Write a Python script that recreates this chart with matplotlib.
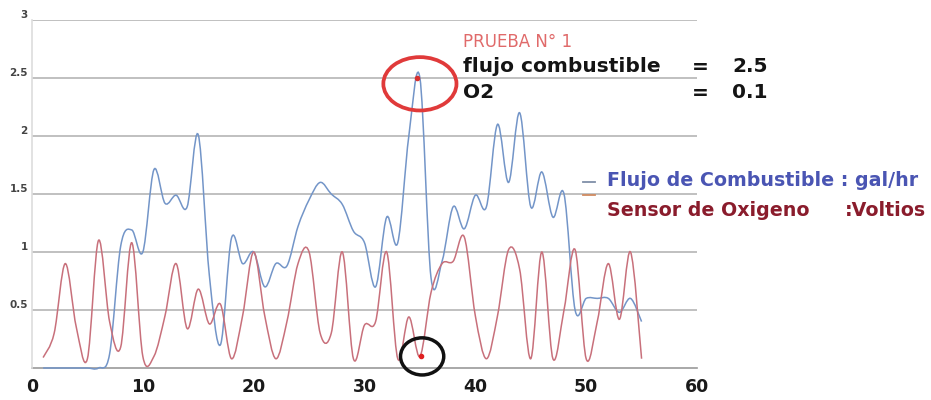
import matplotlib
matplotlib.use("Agg")
import matplotlib.pyplot as plt
from matplotlib.path import Path
from matplotlib.patches import PathPatch, Ellipse

plt.rcParams['font.family'] = ['DejaVu Sans']

# Muestras (una por segundo)
tiempo = list(range(1, 56))

flujo_combustible = [0, 0, 0, 0, 0, 0, 0.12, 1.05, 1.19, 1.0,
                     1.71, 1.42, 1.49, 1.39, 2.01, 0.8, 0.2, 1.12, 0.9, 1.0,
                     0.7, 0.9, 0.88, 1.22, 1.45, 1.6, 1.5, 1.41, 1.18, 1.08,
                     0.7, 1.3, 1.08, 2.0, 2.5, 0.78, 0.92, 1.39, 1.2, 1.49,
                     1.39, 2.1, 1.6, 2.2, 1.39, 1.69, 1.3, 1.5, 0.5, 0.6,
                     0.6, 0.6, 0.48, 0.6, 0.4]

sensor_oxigeno = [0.09, 0.3, 0.9, 0.35, 0.08, 1.1, 0.4, 0.18, 1.08, 0.1,
                  0.1, 0.45, 0.9, 0.34, 0.68, 0.38, 0.55, 0.08, 0.45, 1.0,
                  0.45, 0.08, 0.4, 0.9, 1.0, 0.3, 0.3, 1.0, 0.08, 0.37,
                  0.4, 1.0, 0.08, 0.44, 0.1, 0.65, 0.9, 0.92, 1.13, 0.45,
                  0.08, 0.45, 1.02, 0.85, 0.08, 1.0, 0.08, 0.5, 1.02, 0.08,
                  0.4, 0.9, 0.42, 1.0, 0.08]

x_ticks = [0, 10, 20, 30, 40, 50, 60]
y_ticks = [0.5, 1, 1.5, 2, 2.5, 3]
y_tick_labels = ['0.5', '1', '1.5', '2', '2.5', '3']

# Lectura destacada de la prueba
prueba_t = 35
prueba_flujo = 2.5
prueba_o2 = 0.1

COLOR_FLUJO = '#7395c8'
COLOR_O2 = '#c8707b'


def curva_suavizada(xs, ys):
    """Trayectoria Bezier suavizada que pasa por todos los puntos."""
    n = len(xs)
    verts = [(xs[0], ys[0])]
    codes = [Path.MOVETO]
    for i in range(n - 1):
        a = i - 1 if i > 0 else i
        d = i + 2 if i + 2 < n else i + 1
        c1 = (xs[i] + (xs[i + 1] - xs[a]) / 6.0, ys[i] + (ys[i + 1] - ys[a]) / 6.0)
        c2 = (xs[i + 1] - (xs[d] - xs[i]) / 6.0, ys[i + 1] - (ys[d] - ys[i]) / 6.0)
        verts += [c1, c2, (xs[i + 1], ys[i + 1])]
        codes += [Path.CURVE4] * 3
    return Path(verts, codes)


fig = plt.figure(figsize=(9.31, 4.0), dpi=100)
ax = fig.add_axes([32 / 931, 32 / 400, 665 / 931, 348 / 400])

ax.set_xlim(0, 60)
ax.set_ylim(0, 3)

for serie, color in [(flujo_combustible, COLOR_FLUJO), (sensor_oxigeno, COLOR_O2)]:
    ax.add_patch(PathPatch(curva_suavizada(tiempo, serie), fill=False, edgecolor=color,
                           lw=1.1, transform=ax.transData, zorder=3, clip_on=False))

# Cuadrícula
ax.set_yticks(y_ticks)
ax.set_yticklabels(y_tick_labels, fontsize=7.5, fontweight='bold', color='#444444')
for lab in ax.get_yticklabels():
    lab.set_verticalalignment('bottom')
ax.yaxis.grid(True, color='#b5b5b5', lw=1.2)
ax.set_axisbelow(True)

ax.set_xticks(x_ticks)
ax.set_xticklabels([str(t) for t in x_ticks], fontsize=12.5, fontweight='bold', color='#1a1a1a')
ax.tick_params(axis='both', length=0)
ax.tick_params(axis='x', pad=7)
ax.tick_params(axis='y', pad=3)

for side in ['top', 'right']:
    ax.spines[side].set_visible(False)
ax.spines['left'].set_color('#dddddd')
ax.spines['left'].set_linewidth(1.2)
ax.spines['bottom'].set_color('#9a9a9a')
ax.spines['bottom'].set_linewidth(1.2)
ax.spines['bottom'].set_zorder(2)

# Marcas de la prueba
ax.plot([prueba_t - 0.3], [prueba_flujo], 'o', color='#d83030', ms=3, zorder=5)
ax.plot([prueba_t + 0.1], [prueba_o2], 'o', color='#e02020', ms=3, zorder=5)
ax.add_patch(Ellipse((prueba_t, prueba_flujo - 0.05), 6.6, 0.46, fill=False,
                     edgecolor='#e03a3a', lw=2.7, zorder=6, clip_on=False))
ax.add_patch(Ellipse((prueba_t + 0.2, prueba_o2), 3.9, 0.32, fill=False,
                     edgecolor='#111111', lw=2.5, zorder=6, clip_on=False))


def fx(px):
    return px / 931.0


def fy(py):
    return 1 - py / 400.0


negro = '#141414'
fig.text(fx(463), fy(42), 'PRUEBA N° 1', fontsize=12, color='#e06a6a', va='center', ha='left')
fig.text(fx(463), fy(67), 'flujo combustible', fontsize=14.5, fontweight='bold', color=negro,
         va='center', ha='left')
fig.text(fx(463), fy(93), 'O2', fontsize=14.5, fontweight='bold', color=negro,
         va='center', ha='left')
fig.text(fx(700), fy(67), '=', fontsize=14.5, fontweight='bold', color=negro, va='center', ha='center')
fig.text(fx(700), fy(93), '=', fontsize=14.5, fontweight='bold', color=negro, va='center', ha='center')
fig.text(fx(732), fy(67), f'{prueba_flujo}', fontsize=14.5, fontweight='bold', color=negro,
         va='center', ha='left')
fig.text(fx(732), fy(93), f'{prueba_o2}', fontsize=14.5, fontweight='bold', color=negro,
         va='center', ha='left')

# Leyenda
fig.add_artist(plt.Line2D([fx(583), fx(595)], [fy(182), fy(182)], color='#7f8fa8', lw=1.3))
fig.add_artist(plt.Line2D([fx(583), fx(595)], [fy(195), fy(195)], color='#d08a60', lw=1.3))
fig.text(fx(607), fy(181), 'Flujo de Combustible : gal/hr', fontsize=13.7, fontweight='bold',
         color='#4a55b3', va='center', ha='left')
fig.text(fx(607), fy(210), 'Sensor de Oxigeno', fontsize=13.7, fontweight='bold',
         color='#8a1c2c', va='center', ha='left')
fig.text(fx(845), fy(210), ':Voltios', fontsize=13.7, fontweight='bold',
         color='#8a1c2c', va='center', ha='left')

fig.savefig('out.png', dpi=100, facecolor='white')
